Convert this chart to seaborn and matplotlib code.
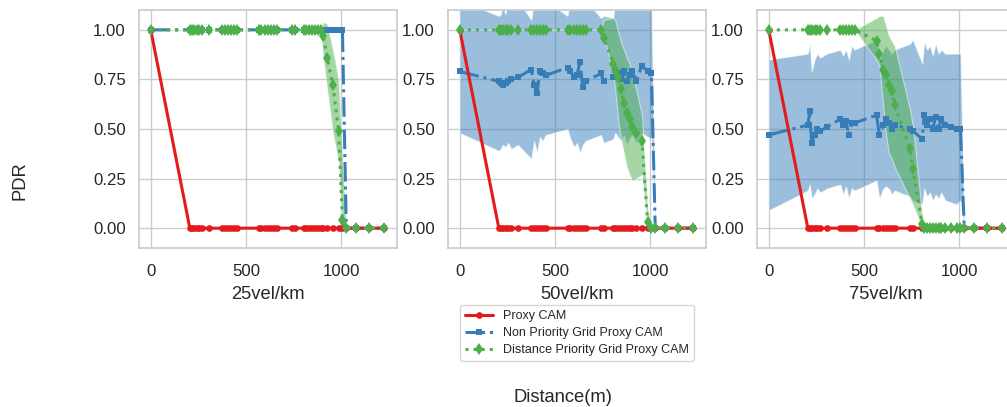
import matplotlib
matplotlib.use("Agg")
import matplotlib.pyplot as plt
from matplotlib.ticker import FormatStrFormatter
import seaborn as sns

# ---------------- data ----------------
X = [0, 205, 215, 225, 240, 255, 270, 305, 375, 390, 405, 420, 435, 450,
     565, 580, 600, 615, 630, 645, 660, 740, 755, 805, 815, 830, 845, 860,
     875, 890, 905, 925, 955, 985, 1005, 1025, 1075, 1145, 1225]

PANELS = ["25vel/km", "50vel/km", "75vel/km"]
SERIES = ["Proxy CAM", "Non Priority Grid Proxy CAM", "Distance Priority Grid Proxy CAM"]

RED = [1.0, 0, 0, 0, 0, 0, 0, 0, 0, 0, 0, 0, 0, 0, 0, 0, 0, 0, 0, 0,
       0, 0, 0, 0, 0, 0, 0, 0, 0, 0, 0, 0, 0, 0, 0, 0, 0, 0, 0]

# 25 vel/km
NP25 = [1, 1, 1, 1, 1, 1, 1, 1, 1, 1, 1, 1, 1, 1, 1, 1, 1, 1, 1, 1,
        1, 1, 1, 1, 1, 1, 1, 1, 1, 1, 1, 1, 1, 1, 1, 0, 0, 0, 0]
DP25 = [1, 1, 1, 1, 1, 1, 1, 1, 1, 1, 1, 1, 1, 1, 1, 1, 1, 1, 1, 1,
        1, 1, 1, 1, 1, 1, 1, 1, 1, 1, 0.97, 0.86, 0.72, 0.49, 0.04, 0, 0, 0, 0]
DP25_LO = [1, 1, 1, 1, 1, 1, 1, 1, 1, 1, 1, 1, 1, 1, 1, 1, 1, 1, 1, 1,
           1, 1, 1, 1, 1, 1, 1, 1, 1, 1, 0.85, 0.70, 0.48, 0.33, 0.0, 0, 0, 0, 0]
DP25_HI = [1, 1, 1, 1, 1, 1, 1, 1, 1, 1, 1, 1, 1, 1, 1, 1, 1, 1, 1, 1,
           1, 1, 1, 1, 1, 1, 1, 1, 1, 1, 1.04, 1.03, 0.90, 0.75, 0.35, 0, 0, 0, 0]

# 50 vel/km
NP50 = [0.79, 0.74, 0.73, 0.72, 0.73, 0.74, 0.75, 0.76, 0.80, 0.72, 0.68, 0.79,
        0.78, 0.77, 0.81, 0.79, 0.76, 0.77, 0.84, 0.71, 0.74, 0.78, 0.74, 0.76,
        0.80, 0.78, 0.75, 0.79, 0.74, 0.77, 0.79, 0.74, 0.82, 0.79, 0.78, 0, 0, 0, 0]
NP50_LO = [0.48, 0.39, 0.40, 0.42, 0.41, 0.43, 0.40, 0.42, 0.35, 0.44, 0.38, 0.46,
           0.44, 0.47, 0.50, 0.45, 0.41, 0.43, 0.38, 0.42, 0.44, 0.47, 0.43, 0.45,
           0.48, 0.46, 0.44, 0.47, 0.42, 0.45, 0.47, 0.43, 0.48, 0.46, 0.45, 0, 0, 0, 0]
NP50_HI = [1.15, 1.07, 1.08, 1.12, 1.08, 1.15, 1.15, 1.15, 1.05, 1.15, 1.15, 1.15,
           1.15, 1.15, 1.07, 1.15, 1.15, 1.15, 1.15, 1.15, 1.15, 1.06, 1.07, 1.06,
           1.15, 1.15, 1.15, 1.15, 1.15, 1.15, 1.15, 1.15, 1.15, 1.15, 1.15, 0, 0, 0, 0]
DP50 = [1, 1, 1, 1, 1, 1, 1, 1, 1, 1, 1, 1, 1, 1, 1, 1, 1, 1, 1, 1,
        1, 1, 0.96, 0.83, 0.80, 0.76, 0.70, 0.63, 0.58, 0.55, 0.51, 0.48, 0.44,
        0.03, 0, 0, 0, 0, 0]
DP50_LO = [1, 1, 1, 1, 1, 1, 1, 1, 1, 1, 1, 1, 1, 1, 1, 1, 1, 1, 1, 1,
           1, 1, 0.97, 0.78, 0.70, 0.55, 0.45, 0.38, 0.31, 0.27, 0.24, 0.25, 0.27,
           0.0, 0, 0, 0, 0, 0]
DP50_HI = [1, 1, 1, 1, 1, 1, 1, 1, 1, 1, 1, 1, 1, 1, 1, 1, 1, 1, 1, 1,
           1, 1, 1.05, 1.06, 1.05, 0.99, 0.94, 0.90, 0.86, 0.83, 0.76, 0.70, 0.57,
           0.10, 0, 0, 0, 0, 0]

# 75 vel/km
NP75 = [0.47, 0.52, 0.59, 0.43, 0.47, 0.50, 0.49, 0.51, 0.55, 0.52, 0.54, 0.47,
        0.53, 0.53, 0.57, 0.47, 0.52, 0.55, 0.53, 0.50, 0.52, 0.50, 0.49, 0.45,
        0.57, 0.52, 0.55, 0.50, 0.56, 0.50, 0.55, 0.52, 0.51, 0.50, 0.50, 0, 0, 0, 0]
NP75_LO = [0.09, 0.19, 0.22, 0.15, 0.17, 0.20, 0.18, 0.20, 0.22, 0.17, 0.21, 0.15,
           0.20, 0.19, 0.24, 0.15, 0.20, 0.21, 0.20, 0.17, 0.19, 0.16, 0.14, 0.12,
           0.20, 0.16, 0.18, 0.14, 0.17, 0.15, 0.18, 0.14, 0.13, 0.12, 0.14, 0, 0, 0, 0]
NP75_HI = [0.85, 0.88, 0.93, 0.79, 0.85, 0.88, 0.86, 0.88, 0.90, 0.87, 0.90, 0.85,
           0.92, 0.90, 0.95, 0.84, 0.90, 0.92, 0.90, 0.88, 0.90, 0.93, 0.95, 0.83,
           0.94, 0.90, 0.92, 0.87, 0.93, 0.88, 0.90, 0.88, 0.88, 0.88, 0.88, 0, 0, 0, 0]
DP75 = [1, 1, 1, 1, 1, 1, 1, 1, 1, 1, 1, 1, 1, 1,
        0.945, 0.88, 0.80, 0.77, 0.72, 0.69, 0.62, 0.40, 0.30, 0.02,
        0, 0, 0, 0, 0, 0, 0, 0, 0, 0, 0, 0, 0, 0, 0]
DP75_LO = [1, 1, 1, 1, 1, 1, 1, 1, 1, 1, 1, 1, 1, 1,
           0.85, 0.82, 0.62, 0.47, 0.38, 0.35, 0.31, 0.15, 0.12, 0.0,
           0, 0, 0, 0, 0, 0, 0, 0, 0, 0, 0, 0, 0, 0, 0]
DP75_HI = [1, 1, 1, 1, 1, 1, 1, 1, 1, 1, 1, 1, 1, 1,
           1.06, 1.07, 1.07, 1.02, 0.97, 0.945, 0.92, 0.60, 0.52, 0.06,
           0, 0, 0, 0, 0, 0, 0, 0, 0, 0, 0, 0, 0, 0, 0]

DATA = {
    "25vel/km": {"np": (NP25, None, None), "dp": (DP25, DP25_LO, DP25_HI)},
    "50vel/km": {"np": (NP50, NP50_LO, NP50_HI), "dp": (DP50, DP50_LO, DP50_HI)},
    "75vel/km": {"np": (NP75, NP75_LO, NP75_HI), "dp": (DP75, DP75_LO, DP75_HI)},
}

# ---------------- style ----------------
sns.set_theme(style="whitegrid", context="notebook", font_scale=1.1)
plt.rcParams["font.family"] = ["Liberation Sans", "DejaVu Sans"]

pal = sns.color_palette("Set1")
C_RED, C_BLUE, C_GREEN = pal[0], pal[1], pal[2]

fig = plt.figure(figsize=(10.07, 4.07), dpi=100)
W, H = 1007, 407
lefts = [139, 448, 757]
axes = [fig.add_axes([l / W, 1 - 248 / H, 258 / W, 238 / H]) for l in lefts]


def band(ax, lo, hi, color, z):
    if lo is None:
        return
    ax.fill_between(X, lo, hi, color=color, alpha=0.5, linewidth=0.8,
                    edgecolor=(1, 1, 1, 0.6), zorder=z)


for ax, panel in zip(axes, PANELS):
    d = DATA[panel]
    np_y, np_lo, np_hi = d["np"]
    dp_y, dp_lo, dp_hi = d["dp"]
    band(ax, np_lo, np_hi, C_BLUE, 1.2)
    band(ax, dp_lo, dp_hi, C_GREEN, 1.3)
    sns.lineplot(x=X, y=np_y, ax=ax, color=C_BLUE, linestyle="-.", marker="s",
                 markersize=4.5, linewidth=2.2, markeredgecolor=C_BLUE,
                 markeredgewidth=0, label=SERIES[1], zorder=2.0,
                 errorbar=None, legend=False)
    sns.lineplot(x=X, y=RED, ax=ax, color=C_RED, linestyle="-", marker="o",
                 markersize=4.8, linewidth=2.2, markeredgecolor=C_RED,
                 markeredgewidth=0, label=SERIES[0], zorder=2.1,
                 errorbar=None, legend=False)
    sns.lineplot(x=X, y=dp_y, ax=ax, color=C_GREEN, linestyle=":", marker="d",
                 markersize=6, linewidth=2.2, markeredgecolor=C_GREEN,
                 markeredgewidth=0, label=SERIES[2], zorder=2.2,
                 errorbar=None, legend=False)
    ax.set_xlim(-61.5, 1291)
    ax.set_ylim(-0.1, 1.1)
    ax.set_xticks([0, 500, 1000])
    ax.set_yticks([0, 0.25, 0.5, 0.75, 1.0])
    ax.yaxis.set_major_formatter(FormatStrFormatter("%.2f"))
    ax.tick_params(axis="x", pad=5.5)
    ax.set_xlabel(panel, labelpad=5)
    ax.set_ylabel("")
    leg = ax.get_legend()
    if leg is not None:
        leg.remove()

handles, labels = axes[1].get_legend_handles_labels()
order = [labels.index(s) for s in SERIES]
axes[1].legend([handles[i] for i in order], [labels[i] for i in order],
               loc="upper center", bbox_to_anchor=(0.5, -0.213), fontsize=9,
               handlelength=2.2, labelspacing=0.4, frameon=True)

fig.text(563 / W, 1 - 397 / H, "Distance(m)", ha="center", va="center",
         fontsize=13.2)
fig.text(20 / W, 1 - 181 / H, "PDR", ha="center", va="center",
         rotation=90, fontsize=13.2)

fig.savefig("out.png", dpi=100)
